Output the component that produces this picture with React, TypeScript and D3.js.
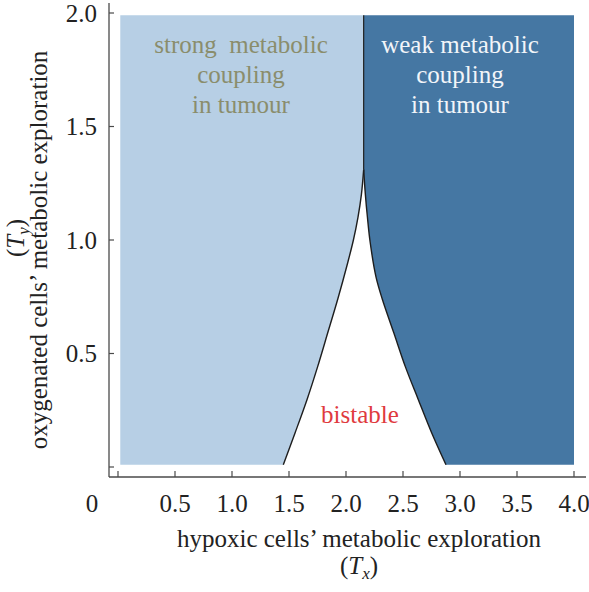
import React from "react";
import * as d3 from "d3";

const xTicks = [0.5, 1.0, 1.5, 2.0, 2.5, 3.0, 3.5, 4.0];
const yTicks = [0.5, 1.0, 1.5, 2.0];
const xTickMarks = [0, 0.5, 1.0, 1.5, 2.0, 2.5, 3.0, 3.5, 4.0];
const yTickMarks = [0, 0.5, 1.0, 1.5, 2.0];

// region extent
const regionX = [0.02, 4.0];
const regionY = [0.01, 1.99];

// bistable boundaries (bottom -> cusp)
const leftBoundaryY = [0.01, 0.15, 0.3, 0.44, 0.6, 0.74, 0.9, 1.0, 1.1, 1.2, 1.31];
const leftBoundaryX = [1.45, 1.553, 1.66, 1.75, 1.845, 1.928, 2.015, 2.065, 2.105, 2.135, 2.155];
const rightBoundaryY = [0.01, 0.15, 0.3, 0.44, 0.59, 0.74, 0.84, 0.99, 1.1, 1.2, 1.31];
const rightBoundaryX = [2.877, 2.752, 2.632, 2.522, 2.42, 2.318, 2.262, 2.212, 2.188, 2.17, 2.155];
const cuspX = 2.155;
const cuspY = 1.31;

const strongLabel = ["strong  metabolic", "coupling", "in tumour"];
const weakLabel = ["weak metabolic", "coupling", "in tumour"];

const FONT = "'Liberation Serif', 'Times New Roman', serif";

export default function App() {
  const W = 589, H = 592;
  const x = d3.scaleLinear().domain([0, 4]).range([118, 574]);
  const y = d3.scaleLinear().domain([0, 2]).range([467, 13]);

  const leftPts: [number, number][] = leftBoundaryY.map((v, i) => [leftBoundaryX[i], v]);
  const rightPts: [number, number][] = rightBoundaryY.map((v, i) => [rightBoundaryX[i], v]);

  const line = d3
    .line<[number, number]>()
    .x((d) => x(d[0]))
    .y((d) => y(d[1]))
    .curve(d3.curveCatmullRom.alpha(0.5));

  const leftPath = line(leftPts) as string;
  const rightPath = line(rightPts) as string;

  const lightPath =
    `M${x(regionX[0])},${y(regionY[0])}` +
    leftPath.replace(/^M/, "L") +
    `L${x(cuspX)},${y(regionY[1])}L${x(regionX[0])},${y(regionY[1])}Z`;

  const darkPath =
    `M${x(cuspX)},${y(regionY[1])}L${x(regionX[1])},${y(regionY[1])}L${x(regionX[1])},${y(regionY[0])}` +
    rightPath.replace(/^M/, "L") +
    `Z`;

  const axisColor = "#4a4a4a";
  const textColor = "#222";
  const fs = 25;

  return (
    <svg
      width={W}
      height={H}
      style={{ position: "absolute", left: 0, top: 0, background: "#fff" }}
      fontFamily={FONT}
    >
      <path d={lightPath} fill="#b7cfe5" stroke="none" />
      <path d={darkPath} fill="#4577a3" stroke="none" />
      <path d={leftPath} fill="none" stroke="#1e1e1e" strokeWidth={1.4} />
      <path d={rightPath} fill="none" stroke="#1e1e1e" strokeWidth={1.4} />
      <line
        x1={x(cuspX)}
        x2={x(cuspX)}
        y1={y(cuspY)}
        y2={y(regionY[1])}
        stroke="#1e1e1e"
        strokeWidth={1.2}
      />

      {/* axes */}
      <line x1={109} x2={586} y1={477} y2={477} stroke={axisColor} strokeWidth={1.3} />
      <line x1={109} x2={109} y1={3} y2={477} stroke={axisColor} strokeWidth={1.3} />
      {xTickMarks.map((t) => (
        <line key={"xt" + t} x1={x(t)} x2={x(t)} y1={477} y2={471} stroke={axisColor} strokeWidth={1.2} />
      ))}
      {yTickMarks.map((t) => (
        <line key={"yt" + t} x1={109} x2={114} y1={y(t)} y2={y(t)} stroke={axisColor} strokeWidth={1.2} />
      ))}
      {xTicks.map((t) => (
        <text key={"xl" + t} x={x(t)} y={512} textAnchor="middle" fontSize={fs} fill={textColor}>
          {t.toFixed(1)}
        </text>
      ))}
      {yTicks.map((t) => (
        <text
          key={"yl" + t}
          x={97}
          y={y(t)}
          dy="0.35em"
          textAnchor="end"
          fontSize={fs}
          fill={textColor}
        >
          {t.toFixed(1)}
        </text>
      ))}
      <text x={92} y={512} textAnchor="middle" fontSize={fs} fill={textColor}>
        0
      </text>

      {/* axis titles */}
      <text x={359} y={547} textAnchor="middle" fontSize={fs} fill={textColor}>
        hypoxic cells’ metabolic exploration
      </text>
      <text x={359} y={574} textAnchor="middle" fontSize={fs} fill={textColor}>
        (<tspan fontStyle="italic">T</tspan>
        <tspan fontStyle="italic" fontSize={17} dy={5}>x</tspan>
        <tspan dy={-5}>)</tspan>
      </text>
      <g transform="translate(47,250) rotate(-90)">
        <text x={0} y={0} textAnchor="middle" fontSize={fs} fill={textColor}>
          oxygenated cells’ metabolic exploration
        </text>
      </g>
      <g transform="translate(24,238) rotate(-90)">
        <text x={0} y={0} textAnchor="middle" fontSize={fs} fill={textColor}>
          (<tspan fontStyle="italic">T</tspan>
          <tspan fontStyle="italic" fontSize={17} dy={5}>y</tspan>
          <tspan dy={-5}>)</tspan>
        </text>
      </g>

      {/* region labels */}
      {strongLabel.map((s, i) => (
        <text
          key={"s" + i}
          x={241}
          y={53 + i * 30}
          textAnchor="middle"
          fontSize={fs}
          fill="#8a8d6c"
          style={{ whiteSpace: "pre" }}
        >
          {s}
        </text>
      ))}
      {weakLabel.map((s, i) => (
        <text key={"w" + i} x={460} y={53 + i * 30} textAnchor="middle" fontSize={fs} fill="#f2f5f9">
          {s}
        </text>
      ))}
      <text x={360} y={423} textAnchor="middle" fontSize={fs} fill="#e03a3e">
        bistable
      </text>
    </svg>
  );
}
